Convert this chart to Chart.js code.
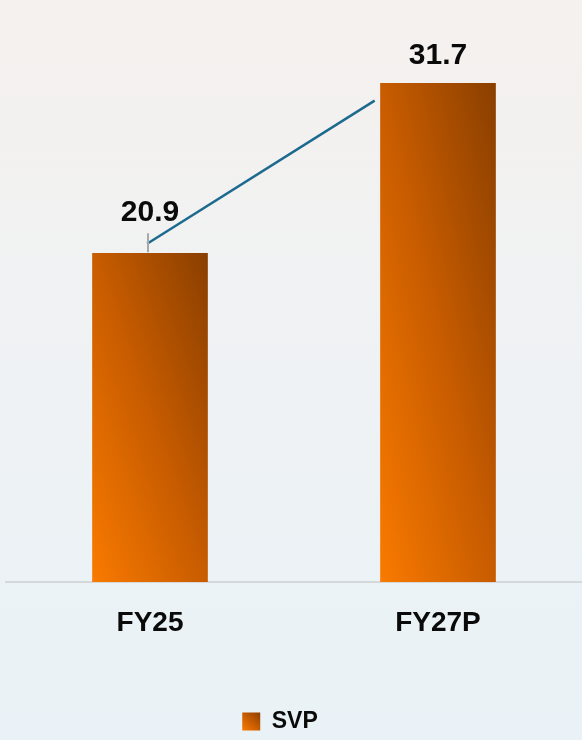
<!DOCTYPE html>
<html>
<head>
<meta charset="utf-8">
<script src="https://cdn.jsdelivr.net/npm/chart.js@4/dist/chart.umd.min.js"></script>
<style>
html,body{margin:0;padding:0;background:#eff2f4;}
#wrap{width:582px;height:740px;position:relative;}
</style>
</head>
<body>
<div id="wrap"><canvas id="c" width="582" height="740"></canvas></div>
<script>
const categories = ['FY25', 'FY27P'];
const svpValues = [20.9, 31.7];
const valueLabels = ['20.9', '31.7'];
const seriesName = 'SVP';
const trendX = [-0.01, 0.78];
const trendY = [21.5, 30.6];
const yMax = 37;

const FONT = "'Liberation Sans', Arial, sans-serif";

function barGradient(ctx, left, right, top, bottom) {
  const w = right - left, h = bottom - top;
  const cx = (left + right) / 2, cy = (top + bottom) / 2;
  const len = Math.sqrt(w * w + h * h);
  const ux = h / len, uy = -w / len;
  const d = 2 * w * h / len;
  const g = ctx.createLinearGradient(cx - ux * d / 2, cy - uy * d / 2, cx + ux * d / 2, cy + uy * d / 2);
  g.addColorStop(0, '#f97a00');
  g.addColorStop(0.5, '#c85c00');
  g.addColorStop(1, '#8a3f00');
  return g;
}

const bgPlugin = {
  id: 'bg',
  afterLayout(chart) {
    const lg = chart.legend;
    if (lg) { lg.left -= 14; lg.right -= 14; }
  },
  beforeDraw(chart) {
    const c = chart.ctx;
    const g = c.createLinearGradient(0, 0, 0, chart.height);
    g.addColorStop(0, '#f5f1ee');
    g.addColorStop(0.5, '#eff2f4');
    g.addColorStop(1, '#e9f2f6');
    c.save();
    c.fillStyle = g;
    c.fillRect(0, 0, chart.width, chart.height);
    c.restore();
    const lg = chart.legend;
    if (lg && lg.legendHitBoxes && lg.legendHitBoxes[0] && lg.legendItems && lg.legendItems[0]) {
      const hb = lg.legendHitBoxes[0];
      const bw = lg.options.labels.boxWidth;
      const top = hb.top + (hb.height - bw) / 2;
      lg.legendItems[0].fillStyle = barGradient(c, hb.left, hb.left + bw, top, top + bw);
    }
  }
};

const labelPlugin = {
  id: 'vlabels',
  afterDatasetsDraw(chart, args, opts) {
    const c = chart.ctx;
    const meta = chart.getDatasetMeta(0);
    c.save();
    c.font = 'bold 30px ' + FONT;
    c.fillStyle = '#0a0a0a';
    c.textAlign = 'center';
    c.textBaseline = 'middle';
    meta.data.forEach((bar, i) => {
      const off = opts.offsets[i];
      c.fillText(valueLabels[i], bar.x, bar.y - off);
      if (opts.leader[i]) {
        c.strokeStyle = '#a9a9a9';
        c.lineWidth = 2;
        c.beginPath();
        c.moveTo(bar.x - 2, bar.y - 20);
        c.lineTo(bar.x - 2, bar.y - 1);
        c.stroke();
      }
    });
    c.restore();
  }
};

new Chart(document.getElementById('c'), {
  data: {
    labels: categories,
    datasets: [
      {
        type: 'bar',
        label: seriesName,
        data: svpValues,
        order: 2,
        grouped: false,
        barThickness: 115,
        backgroundColor: (ctx) => {
          const chart = ctx.chart;
          if (!chart.chartArea || ctx.dataIndex === undefined) return '#c85c00';
          const xs = chart.scales.x, ys = chart.scales.y;
          const x = xs.getPixelForValue(ctx.dataIndex);
          const y = ys.getPixelForValue(svpValues[ctx.dataIndex]);
          const b = ys.getPixelForValue(0);
          return barGradient(chart.ctx, x - 57.5, x + 57.5, y, b);
        }
      },
      {
        type: 'line',
        label: 'trend',
        xAxisID: 'x2',
        order: 0,
        data: trendX.map((x, i) => ({ x: x, y: trendY[i] })),
        borderColor: '#1d6a8f',
        borderWidth: 2.5,
        pointRadius: 0,
        fill: false,
        tension: 0
      }
    ]
  },
  options: {
    responsive: false,
    animation: false,
    layout: { padding: { left: 6, right: 0, top: 0, bottom: -3 } },
    scales: {
      x: {
        type: 'category',
        grid: { display: false, drawTicks: false },
        border: { display: true, color: '#d5d8db', width: 2 },
        ticks: { color: '#0a0a0a', font: { family: FONT, size: 28, weight: 'bold' }, padding: 24 },
        afterFit(scale) { scale.height = 128; }
      },
      x2: { type: 'linear', display: false, min: -0.5, max: 1.5 },
      y: { display: false, min: 0, max: yMax }
    },
    plugins: {
      legend: {
        position: 'bottom',
        labels: {
          boxWidth: 18,
          boxHeight: 18,
          padding: 0,
          color: '#0a0a0a',
          font: { family: FONT, size: 23, weight: 'bold' },
          filter: (item) => item.datasetIndex === 0
        }
      },
      tooltip: { enabled: false },
      vlabels: { offsets: [41, 28], leader: [true, false] }
    }
  },
  plugins: [bgPlugin, labelPlugin]
});
</script>
</body>
</html>
